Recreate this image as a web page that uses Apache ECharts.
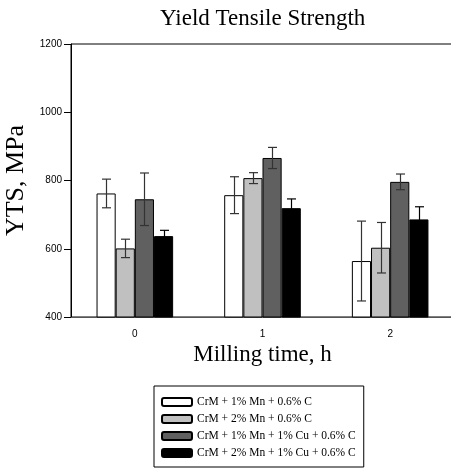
<!DOCTYPE html>
<html><head><meta charset="utf-8">
<script src="https://cdn.jsdelivr.net/npm/echarts@6/dist/echarts.min.js"></script>
<style>html,body{margin:0;padding:0;background:#fff}#c{width:451px;height:472px}</style>
</head><body><div id="c"></div>
<script>
const categories = ['0', '1', '2'];
const seriesNames = ['CrM + 1% Mn + 0.6% C', 'CrM + 2% Mn + 0.6% C', 'CrM + 1% Mn + 1% Cu + 0.6% C', 'CrM + 2% Mn + 1% Cu + 0.6% C'];
const mn1 = [762, 757, 564];
const mn2 = [601, 807, 603];
const mn1cu = [745, 866, 796];
const mn2cu = [637, 719, 686];
const err_mn1 = [42, 54, 117];
const err_mn2 = [27, 16, 74];
const err_mn1cu = [77, 31, 23];
const err_mn2cu = [17, 27, 37];
const yTicks = [400, 600, 800, 1000, 1200];

const values = [mn1, mn2, mn1cu, mn2cu];
const errors = [err_mn1, err_mn2, err_mn1cu, err_mn2cu];
const colors = ['#ffffff', '#c0c0c0', '#606060', '#000000'];
const barFrac = 0.15;

const chart = echarts.init(document.getElementById('c'), null, {renderer: 'canvas'});
const series = [];
values.forEach((vals, i) => {
  series.push({
    name: seriesNames[i], type: 'bar', data: vals, barWidth: (barFrac * 100) + '%', barGap: '0%',
    itemStyle: {color: colors[i], borderColor: '#000', borderWidth: 1},
    emphasis: {disabled: true}, z: 2
  });
});
values.forEach((vals, i) => {
  series.push({
    type: 'custom', z: 5, silent: true,
    data: vals.map((v, k) => [k, v, errors[i][k]]),
    renderItem: function (params, api) {
      const cat = api.value(0), v = api.value(1), e = api.value(2);
      const band = api.size([1, 0])[0];
      const off = (i - 1.5) * band * barFrac;
      const t = api.coord([cat, v + e]);
      const b = api.coord([cat, v - e]);
      const x = Math.round(t[0] + off) + 0.5;
      const cap = 4.5;
      const st = {stroke: i === 3 ? '#000' : '#333', lineWidth: 1.2};
      return {type: 'group', children: [
        {type: 'line', shape: {x1: x, y1: t[1], x2: x, y2: b[1]}, style: st},
        {type: 'line', shape: {x1: x - cap, y1: t[1], x2: x + cap, y2: t[1]}, style: st},
        {type: 'line', shape: {x1: x - cap, y1: b[1], x2: x + cap, y2: b[1]}, style: st}
      ]};
    }
  });
});

chart.setOption({
  animation: false,
  backgroundColor: '#fff',
  title: {text: 'Yield Tensile Strength', left: 155, top: 2,
    textStyle: {fontFamily: 'Liberation Serif', fontSize: 23, fontWeight: 'normal', color: '#000'}},
  grid: {left: 71, right: -3, top: 44, bottom: 155, containLabel: false, outerBoundsMode: 'none',
    show: true, borderColor: '#000', borderWidth: 1, backgroundColor: 'transparent'},
  legend: {
    orient: 'vertical', left: 154, top: 386, data: seriesNames,
    itemWidth: 30, itemHeight: 8, itemGap: 5, itemTextGap: 7,
    padding: [10, 8, 8, 7], borderColor: '#000', borderWidth: 1,
    textStyle: {fontFamily: 'Liberation Serif', fontSize: 11.5, color: '#000'},
    selectedMode: false
  },
  xAxis: {
    type: 'category', data: categories,
    name: 'Milling time, h', nameLocation: 'middle', nameGap: 26,
    nameTextStyle: {fontFamily: 'Liberation Serif', fontSize: 23, color: '#000'},
    axisLine: {lineStyle: {color: '#555', width: 1}},
    axisTick: {alignWithLabel: true, length: 5, lineStyle: {color: '#000'}},
    axisLabel: {fontFamily: 'Liberation Sans', fontSize: 10, color: '#000', margin: 12}
  },
  yAxis: {
    type: 'value', min: yTicks[0], max: yTicks[yTicks.length - 1], interval: 200,
    name: 'YTS, MPa', nameLocation: 'middle', nameGap: 36,
    nameTextStyle: {fontFamily: 'Liberation Serif', fontSize: 26, color: '#000'},
    axisLine: {show: true, lineStyle: {color: '#000', width: 1}},
    axisTick: {show: true, length: 7, lineStyle: {color: '#000'}},
    splitLine: {show: false},
    axisLabel: {fontFamily: 'Liberation Sans', fontSize: 10, color: '#000', margin: 9,
      formatter: v => String(v)}
  },
  series: series
});
</script></body></html>
